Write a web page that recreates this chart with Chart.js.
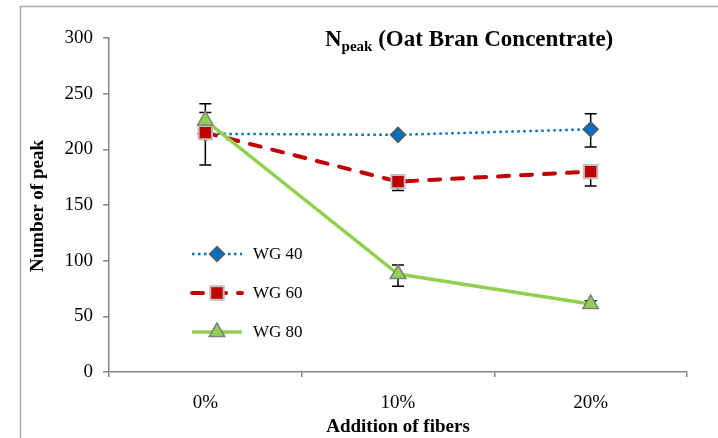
<!DOCTYPE html>
<html>
<head>
<meta charset="utf-8">
<script src="https://cdn.jsdelivr.net/npm/chart.js@4/dist/chart.umd.min.js"></script>
<style>
  html, body { margin: 0; padding: 0; background: #fff; }
  #wrap { width: 718px; height: 438px; }
</style>
</head>
<body>
<div id="wrap"><canvas id="npeak" width="718" height="438"></canvas></div>
<script>
// values
const categories = ['0%', '10%', '20%'];
const wg40 = [214, 213, 218];
const wg60 = [215, 171, 180];
const wg80 = [226, 88, 61];

// error bar ends (low / high)
const wg40Low = [186, 213, 202];
const wg40High = [233, 213, 232];
const wg60Low = [215, 163, 167];
const wg60High = [215, 171, 180];
const wg80Low = [226, 77, 61];
const wg80High = [241, 96, 64];

const yTicks = [0, 50, 100, 150, 200, 250, 300];

const serif = "'Liberation Serif', 'Times New Roman', serif";
const axisGray = '#868686';

// error bars, drawn under the markers
const errorBars = {
    id: 'errorBars',
    beforeDatasetsDraw(chart) {
        const ctx = chart.ctx;
        const y = chart.scales.y;
        ctx.save();
        ctx.strokeStyle = '#000';
        ctx.lineWidth = 1.5;
        chart.data.datasets.forEach((ds, i) => {
            const meta = chart.getDatasetMeta(i);
            meta.data.forEach((pt, j) => {
                const v = ds.data[j];
                [ds.errLow[j], ds.errHigh[j]].forEach(end => {
                    if (end === v) return;
                    const py = y.getPixelForValue(end);
                    ctx.beginPath();
                    ctx.moveTo(pt.x, y.getPixelForValue(v));
                    ctx.lineTo(pt.x, py);
                    ctx.moveTo(pt.x - 6, py);
                    ctx.lineTo(pt.x + 6, py);
                    ctx.stroke();
                });
            });
        });
        ctx.restore();
    }
};

// frame, title with subscript, axis titles and legend box
const decorations = {
    id: 'decorations',
    afterDraw(chart) {
        const ctx = chart.ctx;
        ctx.save();
        // outer frame
        ctx.strokeStyle = '#a6a6a6';
        ctx.lineWidth = 1.5;
        ctx.beginPath();
        ctx.moveTo(20.5, 438);
        ctx.lineTo(20.5, 6.5);
        ctx.lineTo(718, 6.5);
        ctx.stroke();

        // title: N_peak (Oat Bran Concentrate)
        ctx.fillStyle = '#000';
        ctx.textBaseline = 'alphabetic';
        ctx.textAlign = 'left';
        let x = 325;
        ctx.font = 'bold 23px ' + serif;
        ctx.fillText('N', x, 46);
        x += ctx.measureText('N').width;
        ctx.font = 'bold 15px ' + serif;
        ctx.fillText('peak', x, 51);
        x += ctx.measureText('peak').width;
        ctx.font = 'bold 23px ' + serif;
        ctx.fillText(' (Oat Bran Concentrate)', x, 46);

        // axis titles
        ctx.font = 'bold 19px ' + serif;
        ctx.textAlign = 'center';
        ctx.textBaseline = 'middle';
        ctx.fillText('Addition of fibers', 398, 427);
        ctx.save();
        ctx.translate(38, 206);
        ctx.rotate(-Math.PI / 2);
        ctx.fillText('Number of peak', 0, 0);
        ctx.restore();

        // legend: line sample, marker, label
        const rows = [254, 293, 332];
        chart.data.datasets.forEach((ds, i) => {
            const ly = rows[i];
            ctx.save();
            ctx.strokeStyle = ds.borderColor;
            ctx.lineWidth = ds.borderWidth;
            ctx.lineCap = ds.borderCapStyle || 'butt';
            ctx.setLineDash(ds.borderDash || []);
            ctx.beginPath();
            ctx.moveTo(192, ly);
            ctx.lineTo(242, ly);
            ctx.stroke();
            ctx.restore();

            ctx.save();
            ctx.fillStyle = ds.pointBackgroundColor;
            ctx.strokeStyle = ds.pointBorderColor;
            ctx.lineWidth = ds.pointBorderWidth;
            Chart.helpers.drawPoint(ctx, {
                pointStyle: ds.pointStyle,
                radius: ds.pointRadius,
                borderWidth: ds.pointBorderWidth
            }, 217, ly);
            ctx.restore();

            ctx.fillStyle = '#000';
            ctx.font = '17px ' + serif;
            ctx.textAlign = 'left';
            ctx.textBaseline = 'middle';
            ctx.fillText(ds.label, 253, ly + 1);
        });
        ctx.restore();
    }
};

new Chart(document.getElementById('npeak'), {
    type: 'line',
    data: {
        labels: categories,
        datasets: [
            {
                label: 'WG 40',
                data: wg40,
                errLow: wg40Low,
                errHigh: wg40High,
                borderColor: '#0070c0',
                borderWidth: 2.5,
                borderDash: [2.5, 3.5],
                pointStyle: 'rectRot',
                pointRadius: 7.5,
                pointBackgroundColor: '#0070c0',
                pointBorderColor: '#5a5a5a',
                pointBorderWidth: 1.5,
                order: 2
            },
            {
                label: 'WG 60',
                data: wg60,
                errLow: wg60Low,
                errHigh: wg60High,
                borderColor: '#c00000',
                borderWidth: 4,
                borderDash: [11, 12],
                borderCapStyle: 'round',
                pointStyle: 'rect',
                pointRadius: 9.5,
                pointBackgroundColor: '#c00000',
                pointBorderColor: '#bfbfbf',
                pointBorderWidth: 2,
                order: 1
            },
            {
                label: 'WG 80',
                data: wg80,
                errLow: wg80Low,
                errHigh: wg80High,
                borderColor: '#92d050',
                borderWidth: 3.5,
                pointStyle: 'triangle',
                pointRadius: 9,
                pointBackgroundColor: '#92d050',
                pointBorderColor: '#7f7f7f',
                pointBorderWidth: 1.5,
                order: 0
            }
        ]
    },
    options: {
        responsive: false,
        animation: false,
        layout: { padding: { left: 0, right: 31, top: 38, bottom: 0 } },
        plugins: {
            legend: { display: false },
            tooltip: { enabled: false }
        },
        elements: { line: { tension: 0 } },
        scales: {
            x: {
                offset: true,
                grid: {
                    offset: true,
                    drawOnChartArea: false,
                    drawTicks: true,
                    tickLength: 5,
                    color: axisGray,
                    lineWidth: 1.5
                },
                border: { color: axisGray, width: 1.5 },
                ticks: {
                    color: '#000',
                    font: { family: serif, size: 19 },
                    padding: 15
                },
                afterFit(scale) { scale.height = 66; }
            },
            y: {
                min: 0,
                max: 300,
                afterBuildTicks(scale) {
                    scale.ticks = yTicks.map(v => ({ value: v }));
                },
                grid: {
                    drawOnChartArea: false,
                    drawTicks: true,
                    tickLength: 6,
                    color: axisGray,
                    lineWidth: 1.5
                },
                border: { color: axisGray, width: 1.5 },
                ticks: {
                    color: '#000',
                    font: { family: serif, size: 19 },
                    padding: 10
                },
                afterFit(scale) { scale.width = 109; }
            }
        }
    },
    plugins: [errorBars, decorations]
});
</script>
</body>
</html>
